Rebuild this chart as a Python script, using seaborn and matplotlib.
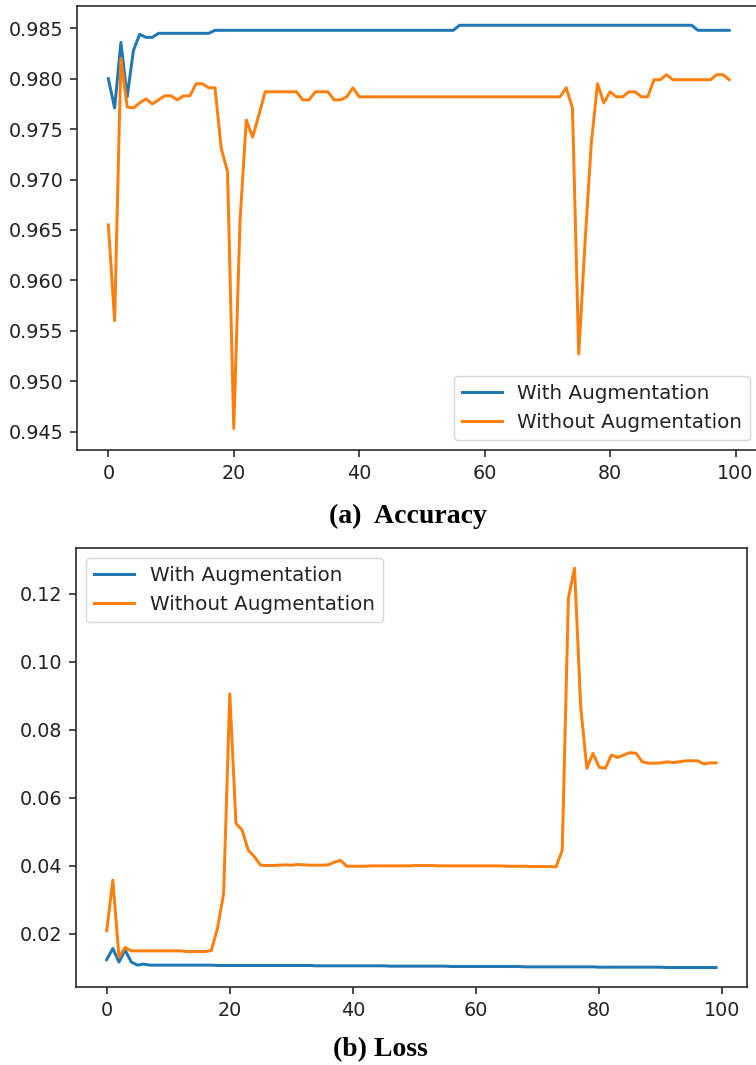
import matplotlib
matplotlib.use("Agg")
import matplotlib.pyplot as plt
import seaborn as sns
import numpy as np

epochs = list(range(100))

acc_with_aug = [
    0.9800, 0.9771, 0.9836, 0.9782, 0.9828, 0.9844, 0.9841, 0.9841, 0.9845, 0.9845,
    0.9845, 0.9845, 0.9845, 0.9845, 0.9845, 0.9845, 0.9845, 0.9848, 0.9848, 0.9848,
    0.9848, 0.9848, 0.9848, 0.9848, 0.9848, 0.9848, 0.9848, 0.9848, 0.9848, 0.9848,
    0.9848, 0.9848, 0.9848, 0.9848, 0.9848, 0.9848, 0.9848, 0.9848, 0.9848, 0.9848,
    0.9848, 0.9848, 0.9848, 0.9848, 0.9848, 0.9848, 0.9848, 0.9848, 0.9848, 0.9848,
    0.9848, 0.9848, 0.9848, 0.9848, 0.9848, 0.9848, 0.9853, 0.9853, 0.9853, 0.9853,
    0.9853, 0.9853, 0.9853, 0.9853, 0.9853, 0.9853, 0.9853, 0.9853, 0.9853, 0.9853,
    0.9853, 0.9853, 0.9853, 0.9853, 0.9853, 0.9853, 0.9853, 0.9853, 0.9853, 0.9853,
    0.9853, 0.9853, 0.9853, 0.9853, 0.9853, 0.9853, 0.9853, 0.9853, 0.9853, 0.9853,
    0.9853, 0.9853, 0.9853, 0.9853, 0.9848, 0.9848, 0.9848, 0.9848, 0.9848, 0.9848,
]

acc_without_aug = [
    0.9655, 0.9560, 0.9820, 0.9772, 0.9771, 0.9776, 0.9780, 0.9775, 0.9779, 0.9783,
    0.9783, 0.9779, 0.9783, 0.9783, 0.9795, 0.9795, 0.9791, 0.9791, 0.9731, 0.9708,
    0.9453, 0.9660, 0.9759, 0.9742, 0.9764, 0.9787, 0.9787, 0.9787, 0.9787, 0.9787,
    0.9787, 0.9779, 0.9779, 0.9787, 0.9787, 0.9787, 0.9779, 0.9779, 0.9782, 0.9791,
    0.9782, 0.9782, 0.9782, 0.9782, 0.9782, 0.9782, 0.9782, 0.9782, 0.9782, 0.9782,
    0.9782, 0.9782, 0.9782, 0.9782, 0.9782, 0.9782, 0.9782, 0.9782, 0.9782, 0.9782,
    0.9782, 0.9782, 0.9782, 0.9782, 0.9782, 0.9782, 0.9782, 0.9782, 0.9782, 0.9782,
    0.9782, 0.9782, 0.9782, 0.9791, 0.9771, 0.9527, 0.9637, 0.9736, 0.9795, 0.9776,
    0.9787, 0.9782, 0.9782, 0.9787, 0.9787, 0.9782, 0.9782, 0.9799, 0.9799, 0.9804,
    0.9799, 0.9799, 0.9799, 0.9799, 0.9799, 0.9799, 0.9799, 0.9804, 0.9804, 0.9799,
]

loss_with_aug = [
    0.0123, 0.0156, 0.0116, 0.0151, 0.0116, 0.0107, 0.0110, 0.0107, 0.0107, 0.0107,
    0.0107, 0.0107, 0.0107, 0.0107, 0.0107, 0.0107, 0.0107, 0.0107, 0.0106, 0.0106,
    0.0106, 0.0106, 0.0106, 0.0106, 0.0106, 0.0106, 0.0106, 0.0106, 0.0106, 0.0106,
    0.0106, 0.0106, 0.0106, 0.0106, 0.0105, 0.0105, 0.0105, 0.0105, 0.0105, 0.0105,
    0.0105, 0.0105, 0.0105, 0.0105, 0.0105, 0.0105, 0.0104, 0.0104, 0.0104, 0.0104,
    0.0104, 0.0104, 0.0104, 0.0104, 0.0104, 0.0104, 0.0103, 0.0103, 0.0103, 0.0103,
    0.0103, 0.0103, 0.0103, 0.0103, 0.0103, 0.0103, 0.0103, 0.0103, 0.0102, 0.0102,
    0.0102, 0.0102, 0.0102, 0.0102, 0.0102, 0.0102, 0.0102, 0.0102, 0.0102, 0.0102,
    0.0101, 0.0101, 0.0101, 0.0101, 0.0101, 0.0101, 0.0101, 0.0101, 0.0101, 0.0101,
    0.0101, 0.0100, 0.0100, 0.0100, 0.0100, 0.0100, 0.0100, 0.0100, 0.0100, 0.0100,
]

loss_without_aug = [
    0.0208, 0.0357, 0.0131, 0.0159, 0.0149, 0.0149, 0.0149, 0.0149, 0.0149, 0.0149,
    0.0149, 0.0149, 0.0149, 0.0147, 0.0147, 0.0147, 0.0147, 0.0150, 0.0215, 0.0318,
    0.0905, 0.0524, 0.0504, 0.0445, 0.0426, 0.0401, 0.0400, 0.0400, 0.0401, 0.0402,
    0.0401, 0.0403, 0.0402, 0.0401, 0.0401, 0.0401, 0.0402, 0.0410, 0.0415, 0.0398,
    0.0398, 0.0398, 0.0398, 0.0399, 0.0399, 0.0399, 0.0399, 0.0399, 0.0399, 0.0399,
    0.0400, 0.0400, 0.0400, 0.0400, 0.0399, 0.0399, 0.0399, 0.0399, 0.0399, 0.0399,
    0.0399, 0.0399, 0.0399, 0.0399, 0.0399, 0.0398, 0.0398, 0.0398, 0.0398, 0.0397,
    0.0397, 0.0397, 0.0397, 0.0396, 0.0445, 0.1187, 0.1275, 0.0867, 0.0686, 0.0730,
    0.0689, 0.0686, 0.0725, 0.0718, 0.0725, 0.0732, 0.0730, 0.0705, 0.0701, 0.0701,
    0.0702, 0.0705, 0.0703, 0.0705, 0.0708, 0.0708, 0.0708, 0.0699, 0.0702, 0.0702,
]

series_labels = ["With Augmentation", "Without Augmentation"]
captions = ["(a)  Accuracy", "(b) Loss"]
x_ticks = [0, 20, 40, 60, 80, 100]

BLUE = "#1f77b4"
ORANGE = "#ff7f0e"

plt.rcParams["font.family"] = ["DejaVu Sans"]
sc = 1.43
plt.rcParams.update({
    "axes.linewidth": 0.8 * sc,
    "xtick.major.width": 0.8 * sc,
    "ytick.major.width": 0.8 * sc,
    "xtick.major.size": 3.5 * sc,
    "ytick.major.size": 3.5 * sc,
    "xtick.major.pad": 3.5 * sc,
    "ytick.major.pad": 3.5 * sc,
    "xtick.labelsize": 13.8,
    "ytick.labelsize": 13.8,
    "xtick.color": "#222222",
    "ytick.color": "#222222",
    "axes.edgecolor": "#222222",
})

fig = plt.figure(figsize=(7.56, 10.65), dpi=100)
ax1 = fig.add_axes([77.3 / 756, 1 - 450 / 1065, 683 / 756, 444 / 1065])
ax2 = fig.add_axes([76.2 / 756, 1 - 987 / 1065, 670.4 / 756, 439 / 1065])

lw = 1.5 * sc
sns.lineplot(x=epochs, y=acc_with_aug, ax=ax1, color=BLUE, linewidth=lw, label=series_labels[0])
sns.lineplot(x=epochs, y=acc_without_aug, ax=ax1, color=ORANGE, linewidth=lw, label=series_labels[1])
sns.lineplot(x=epochs, y=loss_with_aug, ax=ax2, color=BLUE, linewidth=lw, label=series_labels[0])
sns.lineplot(x=epochs, y=loss_without_aug, ax=ax2, color=ORANGE, linewidth=lw, label=series_labels[1])

for ax in (ax1, ax2):
    ax.set_xlim(-4.95, 103.95)
    ax.set_xticks(x_ticks)
    ax.set_xlabel("")
    ax.set_ylabel("")
    for s in ax.spines.values():
        s.set_visible(True)

ax1.set_ylim(0.94318, 0.98721)
ax1.set_yticks([0.945, 0.950, 0.955, 0.960, 0.965, 0.970, 0.975, 0.980, 0.985])
ax1.set_yticklabels(["0.945", "0.950", "0.955", "0.960", "0.965", "0.970", "0.975", "0.980", "0.985"])
ax2.set_ylim(0.00427, 0.1334)
ax2.set_yticks([0.02, 0.04, 0.06, 0.08, 0.10, 0.12])
ax2.set_yticklabels(["0.02", "0.04", "0.06", "0.08", "0.10", "0.12"])

leg_kw = dict(fontsize=14.3, frameon=True, fancybox=True, framealpha=0.8,
              edgecolor="0.8", borderaxespad=0.5)
l1 = ax1.legend(loc="lower right", **leg_kw)
l2 = ax2.legend(loc="upper left", **leg_kw)
for lg in (l1, l2):
    for t in lg.get_texts():
        t.set_color("#222222")

fig.text(407.5 / 756, 1 - 516 / 1065, captions[0], ha="center", va="center",
         family=["Liberation Serif", "DejaVu Serif"], fontweight="bold", fontsize=20)
fig.text(380 / 756, 1 - 1050 / 1065, captions[1], ha="center", va="center",
         family=["Liberation Serif", "DejaVu Serif"], fontweight="bold", fontsize=20)

fig.savefig("out.png", dpi=100)
